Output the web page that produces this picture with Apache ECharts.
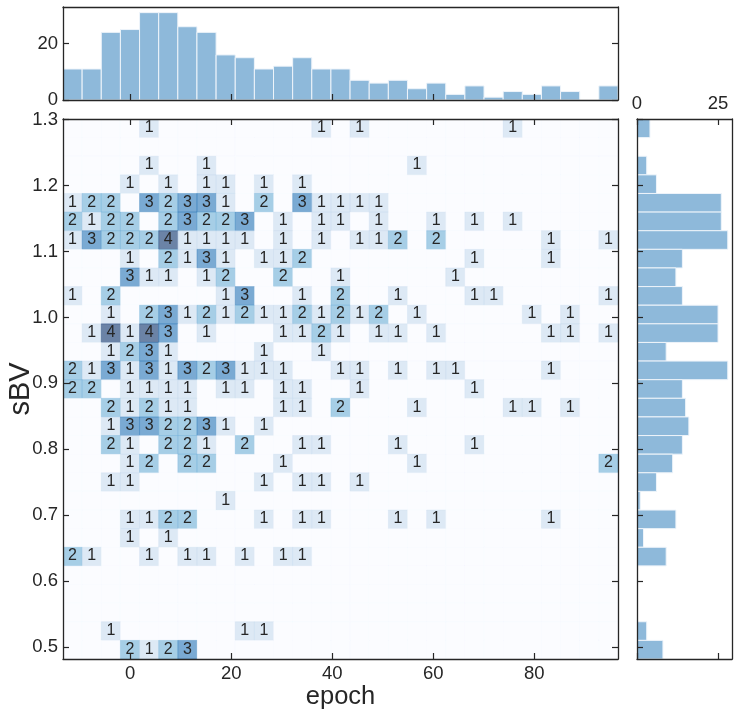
<!DOCTYPE html>
<html>
<head>
<meta charset="utf-8">
<style>html,body{margin:0;padding:0;background:#fff}#chart{width:739px;height:715px}</style>
<script src="https://cdn.jsdelivr.net/npm/echarts@6/dist/echarts.min.js"></script>
</head>
<body>
<div id="chart"></div>
<script>
// Axis extents of the joint plot
const epochMin = -13.3, epochMax = 96.6;
const sbvMin = 0.482, sbvMax = 1.301;
const binCount = 29;

// Tick positions
const epochTicks = [0, 20, 40, 60, 80];
const sbvTicks = [0.5, 0.6, 0.7, 0.8, 0.9, 1.0, 1.1, 1.2, 1.3];
const topCountTicks = [0, 20];
const sideCountTicks = [0, 25];
const topCountMax = 33, sideCountMax = 29.3;

// Sources per 2D bin: rows run from the highest sBV bin down, columns from the lowest epoch bin up
const cellCounts = [
  [0,0,0,0,1,0,0,0,0,0,0,0,0,1,0,1,0,0,0,0,0,0,0,1,0,0,0,0,0],
  [0,0,0,0,0,0,0,0,0,0,0,0,0,0,0,0,0,0,0,0,0,0,0,0,0,0,0,0,0],
  [0,0,0,0,1,0,0,1,0,0,0,0,0,0,0,0,0,0,1,0,0,0,0,0,0,0,0,0,0],
  [0,0,0,1,0,1,0,1,1,0,1,0,1,0,0,0,0,0,0,0,0,0,0,0,0,0,0,0,0],
  [1,2,2,0,3,2,3,3,1,0,2,0,3,1,1,1,1,0,0,0,0,0,0,0,0,0,0,0,0],
  [2,1,2,2,0,2,3,2,2,3,0,1,0,1,1,0,1,0,0,1,0,1,0,1,0,0,0,0,0],
  [1,3,2,2,2,4,1,1,1,1,0,1,0,1,0,1,1,2,0,2,0,0,0,0,0,1,0,0,1],
  [0,0,0,1,0,2,1,3,1,0,1,1,2,0,0,0,0,0,0,0,0,1,0,0,0,1,0,0,0],
  [0,0,0,3,1,1,0,1,2,0,0,2,0,0,1,0,0,0,0,0,1,0,0,0,0,0,0,0,0],
  [1,0,2,0,0,0,0,0,1,3,0,0,1,0,2,0,0,1,0,0,0,1,1,0,0,0,0,0,1],
  [0,0,1,0,2,3,1,2,1,2,1,1,2,1,2,1,2,0,1,0,0,0,0,0,1,0,1,0,0],
  [0,1,4,1,4,3,0,1,0,0,0,1,1,2,1,0,1,1,0,1,0,0,0,0,0,1,1,0,1],
  [0,0,1,2,3,1,0,0,0,0,1,0,0,1,0,0,0,0,0,0,0,0,0,0,0,0,0,0,0],
  [2,1,3,1,3,1,3,2,3,1,1,1,0,0,1,1,0,1,0,1,1,0,0,0,0,1,0,0,0],
  [2,2,0,1,1,1,1,0,1,1,0,1,1,0,0,1,0,0,0,0,0,1,0,0,0,0,0,0,0],
  [0,0,2,1,2,1,1,0,0,0,0,1,1,0,2,0,0,0,1,0,0,0,0,1,1,0,1,0,0],
  [0,0,1,3,3,2,2,3,1,0,1,0,0,0,0,0,0,0,0,0,0,0,0,0,0,0,0,0,0],
  [0,0,2,1,0,2,2,1,0,2,0,0,1,1,0,0,0,1,0,0,0,1,0,0,0,0,0,0,0],
  [0,0,0,1,2,0,2,2,0,0,0,1,0,0,0,0,0,0,1,0,0,0,0,0,0,0,0,0,2],
  [0,0,1,1,0,0,0,0,0,0,1,0,1,1,0,1,0,0,0,0,0,0,0,0,0,0,0,0,0],
  [0,0,0,0,0,0,0,0,1,0,0,0,0,0,0,0,0,0,0,0,0,0,0,0,0,0,0,0,0],
  [0,0,0,1,1,2,2,0,0,0,1,0,1,1,0,0,0,1,0,1,0,0,0,0,0,1,0,0,0],
  [0,0,0,1,0,1,0,0,0,0,0,0,0,0,0,0,0,0,0,0,0,0,0,0,0,0,0,0,0],
  [2,1,0,0,1,0,1,1,0,1,0,1,1,0,0,0,0,0,0,0,0,0,0,0,0,0,0,0,0],
  [0,0,0,0,0,0,0,0,0,0,0,0,0,0,0,0,0,0,0,0,0,0,0,0,0,0,0,0,0],
  [0,0,0,0,0,0,0,0,0,0,0,0,0,0,0,0,0,0,0,0,0,0,0,0,0,0,0,0,0],
  [0,0,0,0,0,0,0,0,0,0,0,0,0,0,0,0,0,0,0,0,0,0,0,0,0,0,0,0,0],
  [0,0,1,0,0,0,0,0,0,1,1,0,0,0,0,0,0,0,0,0,0,0,0,0,0,0,0,0,0],
  [0,0,0,2,1,2,3,0,0,0,0,0,0,0,0,0,0,0,0,0,0,0,0,0,0,0,0,0,0]
];

// Marginal histograms: epoch counts left to right, sBV counts top to bottom
const epochCounts = [11,11,24,25,31,31,26,24,16,15,11,12,15,11,11,7,6,7,4,6,2,5,1,3,2,5,3,0,5];
const sbvCounts = [4,0,3,6,26,26,28,14,12,14,25,25,9,28,14,15,16,14,11,6,1,12,2,9,0,0,0,3,8];

// Blues steps for counts 0-4, painted at 60% opacity
const cellColors = ['#f8faff', '#c6dbef', '#6baed6', '#2171b5', '#08306b'];
const histColor = '#8eb9da';
const inkColor = '#262626';
const fontName = '"Liberation Sans", Arial, sans-serif';

const epochStep = (epochMax - epochMin) / binCount;
const sbvStep = (sbvMax - sbvMin) / binCount;

// One record per bin: [epochLow, epochHigh, sbvLow, sbvHigh, count]
const cellData = [];
cellCounts.forEach((row, r) => row.forEach((count, c) => {
  cellData.push([
    epochMin + c * epochStep, epochMin + (c + 1) * epochStep,
    sbvMax - (r + 1) * sbvStep, sbvMax - r * sbvStep, count
  ]);
}));
const epochHistData = epochCounts.map((n, c) => [epochMin + c * epochStep, epochMin + (c + 1) * epochStep, 0, n]);
const sbvHistData = sbvCounts.map((n, r) => [0, n, sbvMax - (r + 1) * sbvStep, sbvMax - r * sbvStep]);

function spanRect(api, x0, x1, y0, y1) {
  const a = api.coord([x0, y1]);
  const b = api.coord([x1, y0]);
  return { x: a[0], y: a[1], width: b[0] - a[0], height: b[1] - a[1] };
}

function renderCell(params, api) {
  const rect = spanRect(api, api.value(0), api.value(1), api.value(2), api.value(3));
  const count = api.value(4);
  const children = [{
    type: 'rect',
    shape: rect,
    style: { fill: cellColors[count], stroke: cellColors[count], lineWidth: 0.5, opacity: 0.6 }
  }];
  if (count > 0) {
    children.push({
      type: 'text',
      style: {
        x: rect.x + rect.width / 2,
        y: rect.y + rect.height / 2 - 0.5,
        text: String(count),
        fill: inkColor,
        font: '16px ' + fontName,
        align: 'center',
        verticalAlign: 'middle'
      }
    });
  }
  return { type: 'group', children };
}

function renderBar(params, api) {
  const rect = spanRect(api, api.value(0), api.value(1), api.value(2), api.value(3));
  if (rect.width <= 0 || rect.height <= 0) return null;
  return {
    type: 'rect',
    shape: rect,
    style: { fill: histColor, stroke: '#eef4fa', lineWidth: 1 }
  };
}

// Axis builder: ticks point inward, labels only where requested
function axis(gridIndex, position, min, max, ticks, opts) {
  opts = opts || {};
  return Object.assign({
    type: 'value', gridIndex, position, min, max,
    z: 8,
    axisLine: { show: true, onZero: false, lineStyle: { color: inkColor, width: 1.3 } },
    axisTick: ticks
      ? { show: true, inside: true, length: 6, customValues: ticks, lineStyle: { color: inkColor, width: 1.2 } }
      : { show: false },
    axisLabel: opts.labels
      ? {
          show: true, customValues: ticks, margin: opts.margin || 6,
          color: inkColor, fontFamily: fontName, fontSize: 18.5,
          formatter: opts.format || (v => String(v))
        }
      : { show: false },
    splitLine: { show: false }
  }, opts.extra || {});
}

const option = {
  animation: false,
  backgroundColor: '#fff',
  grid: [
    { left: 63, top: 7, width: 555, height: 93, outerBoundsMode: 'none', containLabel: false },
    { left: 63, top: 119, width: 555, height: 540, outerBoundsMode: 'none', containLabel: false },
    { left: 637, top: 119, width: 95, height: 540, outerBoundsMode: 'none', containLabel: false }
  ],
  xAxis: [
    axis(0, 'bottom', epochMin, epochMax, epochTicks),
    axis(1, 'bottom', epochMin, epochMax, epochTicks, {
      labels: true, margin: 5,
      extra: {
        name: 'epoch', nameLocation: 'middle', nameGap: 25, nameMoveOverlap: false,
        nameTextStyle: { color: inkColor, fontFamily: fontName, fontSize: 25.5 }
      }
    }),
    axis(2, 'top', 0, sideCountMax, sideCountTicks, { labels: true, margin: 6 }),
    axis(0, 'top', epochMin, epochMax, null),
    axis(1, 'top', epochMin, epochMax, epochTicks),
    axis(2, 'bottom', 0, sideCountMax, sideCountTicks)
  ],
  yAxis: [
    axis(0, 'left', 0, topCountMax, topCountTicks, { labels: true, margin: 5 }),
    axis(1, 'left', sbvMin, sbvMax, sbvTicks, {
      labels: true, margin: 5, format: v => v.toFixed(1),
      extra: {
        name: 'sBV', nameLocation: 'middle', nameGap: 28, nameRotate: 90, nameMoveOverlap: false,
        nameTextStyle: { color: inkColor, fontFamily: fontName, fontSize: 29 }
      }
    }),
    axis(2, 'left', sbvMin, sbvMax, sbvTicks),
    axis(0, 'right', 0, topCountMax, topCountTicks),
    axis(1, 'right', sbvMin, sbvMax, sbvTicks),
    axis(2, 'right', sbvMin, sbvMax, null)
  ],
  series: [
    {
      type: 'custom', name: 'epoch counts', xAxisIndex: 0, yAxisIndex: 0, silent: true, clip: true,
      data: epochHistData, encode: { x: [0, 1], y: [2, 3] }, renderItem: renderBar
    },
    {
      type: 'custom', name: 'joint counts', xAxisIndex: 1, yAxisIndex: 1, silent: true, clip: true,
      data: cellData, encode: { x: [0, 1], y: [2, 3] }, renderItem: renderCell
    },
    {
      type: 'custom', name: 'sBV counts', xAxisIndex: 2, yAxisIndex: 2, silent: true, clip: true,
      data: sbvHistData, encode: { x: [0, 1], y: [2, 3] }, renderItem: renderBar
    }
  ]
};

echarts.init(document.getElementById('chart'), null, { renderer: 'canvas' }).setOption(option);
</script>
</body>
</html>
